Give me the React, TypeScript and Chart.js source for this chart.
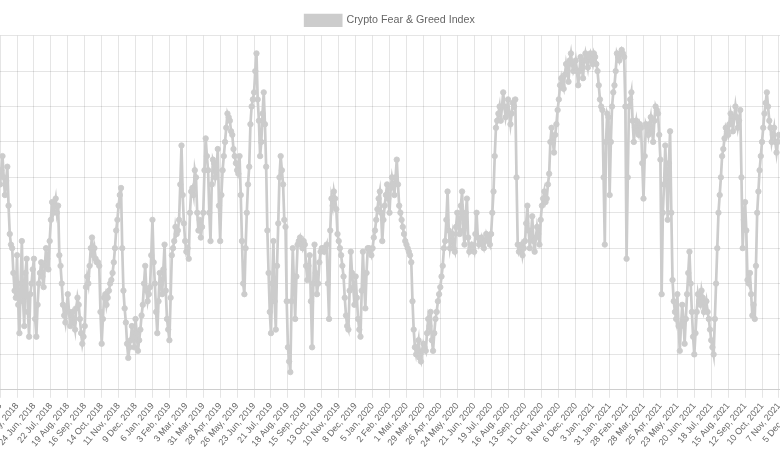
import React, { useEffect, useRef } from "react";
import { Chart, registerables } from "chart.js";

Chart.register(...registerables);

// ---- data (Crypto Fear & Greed Index, read every 2 days) ----
const SERIES_LABEL = "Crypto Fear & Greed Index";
const STEP_DAYS = 2;

const start2018 = "2018-04-29";
const fgi2018 = [
  58, 62, 66, 60, 55, 59, 63, 52, 44, 41, 40, 33, 28, 26, 38, 24, 16, 30, 42, 25,
  18, 33, 37, 22, 15, 27, 30, 34, 37, 20, 15, 24, 30, 33, 36, 32, 29, 35, 40, 37,
  34, 42, 48, 53, 50, 52, 54, 50, 52, 38, 35, 30, 24, 21, 19, 23, 27, 22, 18, 21,
  22, 19, 17, 23, 26, 24, 20, 16, 13, 15, 18, 29, 32, 30, 35, 40, 43, 38, 40, 37,
  36, 36, 35, 22, 13, 20, 26, 27, 24, 26, 28, 30, 31, 33, 36, 40, 45, 48, 52, 55,
  57, 40, 28, 23, 19, 13, 9, 12, 14, 18, 15, 12, 20, 16, 11, 14, 17, 21, 24, 30,
  35, 28, 25, 27,
];

const start2019 = "2019-01-02";
const fgi2019 = [
  29, 38, 48, 36, 30, 22, 16, 25, 33, 30, 27, 34, 41, 28, 20, 17, 14, 26, 38, 40,
  42, 46, 44, 45, 48, 58, 69, 55, 47, 42, 39, 40, 37, 50, 56, 57, 55, 62, 60, 50,
  45, 48, 43, 46, 50, 62, 71, 66, 62, 50, 42, 58, 65, 64, 60, 62, 68, 52, 42, 55,
  62, 66, 70, 74, 78, 77, 76, 73, 72, 68, 66, 64, 62, 61, 66, 55, 42, 30, 27, 40,
  50, 58, 63, 75, 80, 82, 84, 90, 95, 82, 76, 66, 70, 78, 84, 75, 63, 45, 33, 22,
  16, 30, 42, 25, 17, 35, 47, 60, 66, 62, 58, 48, 46, 25, 12, 8, 5, 25, 40, 30,
  20, 32, 41, 42, 43, 41, 40, 42, 41, 35, 31, 35, 38, 25, 12, 30, 41, 33, 27, 30,
  36, 39, 40, 40, 39, 40, 41, 30, 20, 45, 54, 52, 56, 54, 51, 44, 42, 40, 38, 35,
  32, 26, 21, 18, 17, 28, 39, 33, 29, 24, 32, 26, 20, 17, 15, 28, 39, 30, 23, 33,
  40, 40,
];

const start2020 = "2020-01-01";
const fgi2020 = [
  39, 38, 40, 43, 45, 48, 51, 54, 56, 50, 42, 48, 52, 55, 58, 54, 50, 57, 60, 58,
  55, 60, 65, 58, 52, 50, 48, 46, 44, 42, 41, 40, 39, 38, 36, 25, 17, 12, 10, 12,
  14, 9, 8, 11, 13, 12, 11, 16, 20, 18, 22, 14, 11, 16, 20, 22, 25, 27, 29, 32,
  35, 40, 42, 48, 56, 45, 40, 42, 44, 40, 39, 46, 50, 47, 44, 52, 56, 45, 41, 50,
  54, 43, 39, 40, 41, 40, 39, 44, 50, 43, 41, 42, 43, 41, 40, 42, 44, 43, 42, 41,
  44, 50, 56, 66, 74, 76, 78, 80, 76, 80, 84, 80, 77, 79, 82, 78, 75, 78, 81, 80,
  82, 60, 41, 39, 40, 41, 38, 40, 42, 47, 52, 45, 40, 44, 49, 42, 39, 43, 46, 44,
  41, 48, 52, 54, 56, 53, 54, 58, 61, 70, 74, 70, 67, 72, 75, 79, 82, 86, 88, 86,
  85, 89, 92, 90, 87, 93, 95, 92, 90, 91, 93, 90, 86, 90, 94, 91, 88, 93, 95, 93,
  91, 94, 95,
];

const start2021 = "2021-01-01";
const fgi2021 = [
  93, 92, 95, 94, 92, 90, 86, 82, 80, 79, 60, 41, 70, 78, 77, 55, 70, 80, 84, 86,
  90, 95, 94, 93, 95, 96, 95, 94, 80, 37, 60, 80, 82, 84, 76, 70, 74, 76, 73, 72,
  75, 74, 64, 54, 66, 75, 74, 72, 75, 77, 73, 70, 76, 80, 79, 78, 72, 65, 27, 50,
  58, 69, 60, 48, 64, 73, 50, 31, 25, 22, 20, 27, 18, 11, 18, 24, 20, 13, 20, 27,
  33, 39, 30, 22, 15, 10, 16, 22, 27, 25, 24, 28, 26, 22, 23, 25, 22, 20, 17, 14,
  12, 10, 20, 30, 40, 50, 55, 60, 66, 68, 71, 74, 73, 72, 75, 78, 76, 73, 77, 80,
  77, 74, 76, 79, 60, 40, 48, 53, 45, 31, 30, 33, 27, 21, 24, 20, 35, 50, 56, 62,
  66, 70, 74, 78, 81, 84, 80, 76, 74, 70, 72, 74, 70, 67, 70, 72,
];

// ---- axis definitions ----
const EPOCH = Date.UTC(2018, 4, 27); // x = 0 -> 27 May 2018 (a tick date)
const DAY_MS = 86400000;
const TICK_STEP_DAYS = 28;
const AXIS_MIN_DAY = -121.4;
const AXIS_MAX_DAY = 1355;
const Y_MIN = 0;
const Y_MAX = 100;
const Y_STEP = 10;
const MONTHS = ["Jan", "Feb", "Mar", "Apr", "May", "Jun", "Jul", "Aug", "Sep", "Oct", "Nov", "Dec"];

// ---- layout ----
const CANVAS_W = 900;
const CANVAS_H = 470;
const CANVAS_LEFT = -60;

function toPoints(start: string, values: number[]) {
  const startDay = (Date.parse(start) - EPOCH) / DAY_MS;
  return values.map((v, k) => ({ x: startDay + k * STEP_DAYS, y: v }));
}

function tickLabel(value: number | string) {
  const v = Number(value);
  if (Math.abs(v % TICK_STEP_DAYS) > 1e-6) return null;
  const d = new Date(EPOCH + v * DAY_MS);
  return `${d.getUTCDate()} ${MONTHS[d.getUTCMonth()]}, ${d.getUTCFullYear()}`;
}

export default function App() {
  const ref = useRef<HTMLCanvasElement>(null);

  useEffect(() => {
    const points = [
      ...toPoints(start2018, fgi2018),
      ...toPoints(start2019, fgi2019),
      ...toPoints(start2020, fgi2020),
      ...toPoints(start2021, fgi2021),
    ];
    const grey = "rgb(204,204,204)";
    const chart = new Chart(ref.current as HTMLCanvasElement, {
      type: "line",
      data: {
        datasets: [
          {
            label: SERIES_LABEL,
            data: points,
            borderColor: grey,
            backgroundColor: grey,
            borderWidth: 2.7,
            pointRadius: 2.7,
            pointBorderWidth: 0.9,
            pointHoverRadius: 2.7,
            fill: false,
            tension: 0,
          },
        ],
      },
      options: {
        responsive: false,
        animation: false,
        devicePixelRatio: 1,
        layout: { padding: { top: 5, bottom: 18, left: 0, right: 0 } },
        plugins: {
          legend: {
            display: true,
            position: "top",
            labels: { color: "#666", font: { size: 10.7 }, boxWidth: 36, padding: 10 },
          },
          tooltip: { enabled: false },
        },
        scales: {
          x: {
            type: "linear",
            min: AXIS_MIN_DAY,
            max: AXIS_MAX_DAY,
            afterFit: (s: any) => {
              s.paddingLeft = 0;
              s.paddingRight = 0;
            },
            ticks: {
              stepSize: TICK_STEP_DAYS,
              autoSkip: false,
              includeBounds: false,
              minRotation: 50,
              maxRotation: 50,
              color: "#666",
              font: { size: 9 },
              callback: (value: any) => tickLabel(value),
            },
            grid: { color: "rgba(0,0,0,0.1)" },
          },
          y: {
            min: Y_MIN,
            max: Y_MAX,
            ticks: { display: false, stepSize: Y_STEP },
            grid: { drawTicks: false, color: "rgba(0,0,0,0.1)" },
            border: { display: false },
          },
        },
      } as any,
    });
    return () => chart.destroy();
  }, []);

  return (
    <div
      style={{
        position: "fixed",
        left: 0,
        top: 0,
        width: 780,
        height: 470,
        overflow: "hidden",
        background: "#fff",
      }}
    >
      <canvas
        ref={ref}
        width={CANVAS_W}
        height={CANVAS_H}
        style={{ position: "absolute", left: CANVAS_LEFT, top: 0, width: CANVAS_W, height: CANVAS_H }}
      />
    </div>
  );
}
